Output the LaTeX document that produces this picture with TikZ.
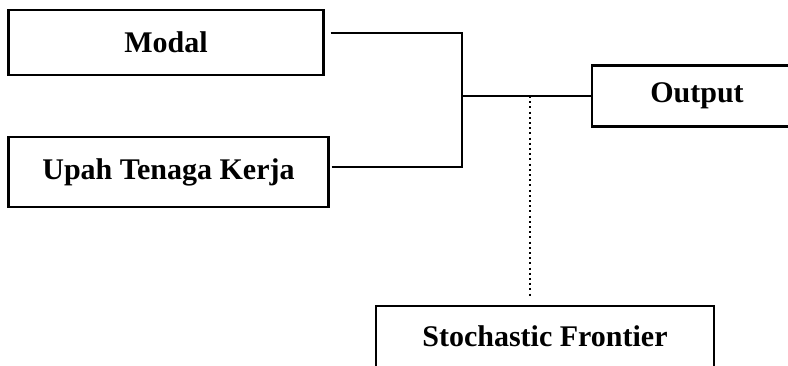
\documentclass[tikz,border=0pt]{standalone}
\usepackage{fontspec}
\setmainfont{Liberation Serif}
\usetikzlibrary{calc}

\begin{document}
\begin{tikzpicture}[x=0.5pt,y=-0.5pt,line width=1pt,
  box/.style={rectangle,draw,line width=1.1pt,font=\bfseries\fontsize{15}{18}\selectfont},
  frontier/.style={box,anchor=north,text height=14pt,text depth=14pt,inner ysep=6pt}]
\clip (0,0) rectangle (788,365);
\useasboundingbox (0,0) rectangle (788,365);

\node[box, minimum width=157.5pt, minimum height=32.5pt] (modal) at (166,42.5) {Modal};
\node[box, minimum width=160pt, minimum height=35pt] (upah) at (168.5,172) {Upah Tenaga Kerja};
\node[box, minimum width=105pt, minimum height=30.5pt] (output) at (697,96) {Output};
\node[frontier, minimum width=169pt] (stoch) at (545,305) {Stochastic Frontier};

\coordinate (j) at (462,96);
\coordinate (d) at (530,96);

\draw ($(modal.east)+(6,-9.5)$) -| (j);
\draw ($(upah.east)+(2,-5)$) -| (j);
\draw (j) -- (output.west);
\draw[line width=1.2pt, dash pattern=on 1pt off 1.6pt] (d) -- ([yshift=4.5pt]d |- stoch.north);

\end{tikzpicture}
\end{document}
